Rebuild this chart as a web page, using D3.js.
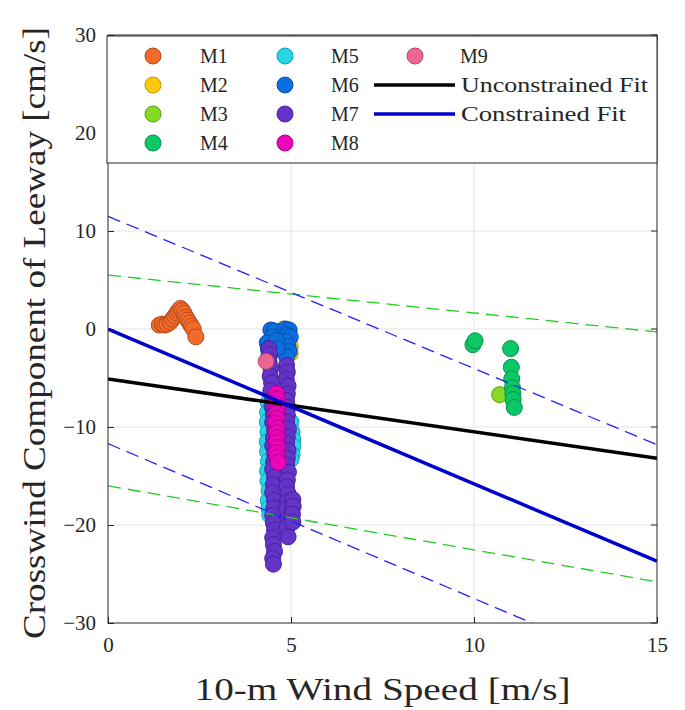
<!DOCTYPE html>
<html><head><meta charset="utf-8">
<script src="https://cdn.jsdelivr.net/npm/d3@7"></script>
<style>
body{margin:0;background:#fff;}
text{font-family:"Liberation Serif","DejaVu Serif",serif;fill:#262626;}
</style></head>
<body><svg id="c" width="685" height="710"></svg>
<script>
// ---- data ----
const xTicks = [0, 5, 10, 15];
const yTicks = [-30, -20, -10, 0, 10, 20, 30];
const seriesNames = ["M1","M2","M3","M4","M5","M6","M7","M8","M9"];
const seriesFill = ["#f26b2c","#fdc90a","#86d924","#0cc766","#27d5e6","#0a6fe0","#6434c8","#ec05b9","#ef6790"];
const seriesEdge = ["#b44a17","#c29500","#5d9a13","#07904a","#14a2b0","#0b4fa6","#47229a","#ad0086","#b74668"];

const m1x = [1.40,1.48,1.55,1.62,1.70,1.76,1.82,1.88,1.93,1.98,2.03,2.08,2.13,2.18,2.23,2.28,2.33,2.40];
const m1y = [0.4,0.5,0.4,0.5,0.7,1.0,1.3,1.6,1.9,2.1,1.9,1.6,1.2,0.9,0.6,0.3,0.0,-0.8];
const m2x = [4.80,4.85,4.90,4.95,4.98,4.92,4.88,4.98];
const m2y = [0.0,-0.3,-0.8,-1.3,-1.8,-2.2,-2.4,-2.5];
const m3x = [10.70];
const m3y = [-6.7];
const m4x = [9.97,10.03,11.00,11.02,11.03,11.05,11.06,11.07,11.10];
const m4y = [-1.6,-1.2,-2.0,-3.9,-5.1,-6.0,-6.6,-7.2,-8.0];
const m5x = [4.38,4.36,4.35,4.37,4.35,4.36,4.38,4.36,4.37,4.40,4.38,4.40,4.42,5.00,5.03,5.05,5.05,5.03,5.00,4.70,4.75,4.65];
const m5y = [-7.5,-8.5,-9.5,-10.5,-11.5,-12.5,-13.5,-14.5,-15.5,-16.5,-17.5,-18.3,-19.0,-9.5,-10.5,-11.3,-12.0,-12.8,-13.3,-9.0,-11.0,-13.0];
const m6x = [4.45,4.55,4.50,4.85,4.95,4.90,4.98,4.35,4.38,4.40,4.85,4.92,4.95,4.88,4.60,4.62];
const m6y = [-0.1,-0.2,-0.8,0.0,-0.1,-0.6,-0.8,-1.4,-2.0,-2.6,-1.3,-1.8,-2.3,-2.8,-1.2,-2.0];
const m7x = [4.40,4.42,4.40,4.45,4.43,4.47,4.45,4.50,4.48,4.52,4.50,4.55,4.52,4.50,4.55,4.53,4.50,4.55,4.52,4.50,4.55,4.53,4.50,4.52,4.55,4.50,4.52,4.55,4.50,4.52,
             4.88,4.90,4.87,4.92,4.90,4.88,4.92,4.90,4.88,4.93,4.90,4.88,4.92,4.90,4.88,4.93,4.90,4.88,4.92,4.90,4.88,4.92,4.90,4.92,5.05,5.06,5.04,5.05];
const m7y = [-2.0,-2.6,-3.3,-4.0,-4.8,-5.5,-6.3,-7.1,-7.9,-8.7,-9.5,-10.3,-11.1,-11.9,-12.7,-13.5,-14.3,-15.1,-15.9,-16.7,-17.5,-18.3,-19.0,-19.8,-20.5,-21.3,-22.0,-22.7,-23.4,-24.0,
             -3.7,-4.4,-5.1,-5.8,-6.6,-7.3,-8.0,-8.8,-9.5,-10.2,-11.0,-11.7,-12.4,-13.2,-13.9,-14.6,-15.4,-16.1,-16.8,-17.6,-18.4,-19.3,-20.2,-21.2,-17.4,-18.1,-18.9,-19.7];
const m8x = [4.60,4.62,4.58,4.63,4.60,4.62,4.58,4.63,4.60,4.62,4.60,4.63,4.60,4.62,4.65];
const m8y = [-6.6,-7.1,-7.6,-8.1,-8.6,-9.1,-9.6,-10.1,-10.6,-11.1,-11.6,-12.1,-12.6,-13.1,-13.6];
const m9x = [4.32];
const m9y = [-3.3];

const fitX = [0, 15];
const unconstrainedY = [-5.1, -13.2];
const constrainedY = [0.0, -23.7];
const constrainedUpperY = [11.5, -11.8];
const constrainedLowerY = [-11.7, -35.4];
const unconstrainedUpperY = [5.5, -0.3];
const unconstrainedLowerY = [-16.0, -25.8];

// ---- layout ----
const svg = d3.select("#c");
const L = 108, R = 657, T = 35, B = 623;
const x = d3.scaleLinear().domain([0, 15]).range([L, R]);
const y = d3.scaleLinear().domain([-30, 30]).range([B, T]);

svg.append("defs").append("clipPath").attr("id","clip")
  .append("rect").attr("x",L).attr("y",T).attr("width",R-L).attr("height",B-T);

// grid
const g = svg.append("g");
g.selectAll(".gx").data(xTicks.slice(1,-1)).enter().append("line")
  .attr("x1",d=>x(d)).attr("x2",d=>x(d)).attr("y1",T).attr("y2",B)
  .attr("stroke","#e3e3e3").attr("stroke-width",1);
g.selectAll(".gy").data(yTicks.slice(1,-1)).enter().append("line")
  .attr("x1",L).attr("x2",R).attr("y1",d=>y(d)).attr("y2",d=>y(d))
  .attr("stroke","#e3e3e3").attr("stroke-width",1);

// axes
const xAxis = d3.axisBottom(x).tickValues(xTicks).tickSizeInner(-6).tickSizeOuter(0).tickPadding(14);
const yAxis = d3.axisLeft(y).tickValues(yTicks).tickSizeInner(-6).tickSizeOuter(0).tickPadding(12);
const gx = svg.append("g").attr("transform",`translate(0,${B})`).call(xAxis);
const gy = svg.append("g").attr("transform",`translate(${L},0)`).call(yAxis);
[gx, gy].forEach(a => {
  a.attr("font-family", null);
  a.select(".domain").remove();
  a.selectAll(".tick line").attr("stroke","#262626");
  a.selectAll(".tick text").style("font-size","21px").attr("fill","#262626");
});
// top/right ticks
svg.append("g").selectAll("line").data(xTicks).enter().append("line")
  .attr("x1",d=>x(d)).attr("x2",d=>x(d)).attr("y1",T).attr("y2",T+6).attr("stroke","#262626");
svg.append("g").selectAll("line").data(yTicks).enter().append("line")
  .attr("x1",R).attr("x2",R-6).attr("y1",d=>y(d)).attr("y2",d=>y(d)).attr("stroke","#262626");

// points
const series = [[m1x,m1y],[m2x,m2y],[m3x,m3y],[m4x,m4y],[m5x,m5y],[m6x,m6y],[m7x,m7y],[m8x,m8y],[m9x,m9y]];
const pts = svg.append("g").attr("clip-path","url(#clip)");
series.forEach((s,i) => {
  const data = s[0].map((v,j)=>[v, s[1][j]]);
  pts.append("g").selectAll("circle").data(data).enter().append("circle")
    .attr("cx",d=>x(d[0])).attr("cy",d=>y(d[1])).attr("r",8)
    .attr("fill",seriesFill[i]).attr("stroke",seriesEdge[i]).attr("stroke-width",1);
});

// lines
const line = d3.line().x(d=>x(d[0])).y(d=>y(d[1]));
const lg = svg.append("g").attr("clip-path","url(#clip)");
function drawLine(ys, color, w, dash){
  const p = lg.append("path").datum(fitX.map((v,i)=>[v, ys[i]]))
    .attr("d", line).attr("fill","none").attr("stroke",color).attr("stroke-width",w);
  if (dash) p.attr("stroke-dasharray", dash);
}
drawLine(unconstrainedUpperY, "#22cc22", 1.3, "13,7");
drawLine(unconstrainedLowerY, "#22cc22", 1.3, "13,7");
drawLine(constrainedUpperY, "#2222ff", 1.3, "13,7");
drawLine(constrainedLowerY, "#2222ff", 1.3, "13,7");
drawLine(unconstrainedY, "#000000", 3.5);
drawLine(constrainedY, "#0000cc", 3.5);

// axes box
svg.append("rect").attr("x",L).attr("y",T).attr("width",R-L).attr("height",B-T)
  .attr("fill","none").attr("stroke","#262626").attr("stroke-width",1);

// legend
const leg = svg.append("g");
leg.append("rect").attr("x",L-1).attr("y",36).attr("width",R-L+1).attr("height",127)
  .attr("fill","#fff").attr("stroke","#262626").attr("stroke-width",1);
const rowY = [56, 85, 114, 143];
const colMx = [153, 285, 415];
const colTx = [200, 331, 460];
seriesNames.forEach((n,i) => {
  const c = Math.floor(i/4), r = i%4;
  leg.append("circle").attr("cx",colMx[c]).attr("cy",rowY[r]).attr("r",8)
    .attr("fill",seriesFill[i]).attr("stroke",seriesEdge[i]).attr("stroke-width",1);
  leg.append("text").attr("x",colTx[c]).attr("y",rowY[r]).attr("dy","0.35em")
    .style("font-size","20px").text(n);
});
const fitNames = ["Unconstrained Fit","Constrained Fit"];
const fitColors = ["#000000","#0000cc"];
const fitLen = [187, 165];
fitNames.forEach((n,i)=>{
  leg.append("line").attr("x1",374).attr("x2",455).attr("y1",rowY[i+1]).attr("y2",rowY[i+1])
    .attr("stroke",fitColors[i]).attr("stroke-width",3.5);
  leg.append("text").attr("x",461).attr("y",rowY[i+1]).attr("dy","0.35em")
    .style("font-size","20px").attr("textLength",fitLen[i]).attr("lengthAdjust","spacingAndGlyphs").text(n);
});

// axis labels
svg.append("text").attr("x",(L+R)/2).attr("y",700).attr("text-anchor","middle")
  .style("font-size","32px").attr("textLength",376).attr("lengthAdjust","spacingAndGlyphs")
  .text("10-m Wind Speed [m/s]");
svg.append("text").attr("transform",`translate(45,333) rotate(-90)`).attr("text-anchor","middle")
  .style("font-size","32px").attr("textLength",612).attr("lengthAdjust","spacingAndGlyphs")
  .text("Crosswind Component of Leeway [cm/s]");
</script></body></html>
